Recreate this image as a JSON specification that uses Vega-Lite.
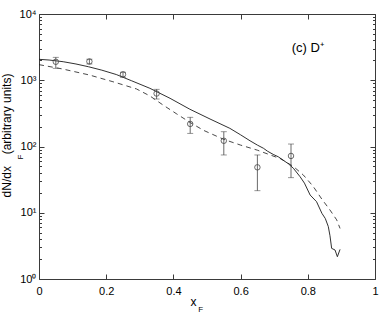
{
  "$schema": "https://vega.github.io/schema/vega-lite/v6.json",
  "width": 336,
  "height": 265,
  "autosize": {"type": "none"},
  "padding": {"left": 39, "top": 14, "right": 7, "bottom": 36},
  "background": "white",
  "config": {
    "font": "Liberation Sans",
    "view": {"stroke": null},
    "axis": {"grid": false, "labelFont": "Liberation Sans", "titleFont": "Liberation Sans", "labelColor": "#000", "titleColor": "#000", "domainColor": "#3a3a3a", "tickColor": "#3a3a3a", "domainWidth": 1, "tickWidth": 1, "labelFontSize": 11, "titleFontSize": 12, "titleFontWeight": "normal", "labelOverlap": false, "labelFlush": false, "labelBound": false}
  },
  "datasets": {
    "solid": [
      {"x": 0.0, "y": 2070}, {"x": 0.03, "y": 2020}, {"x": 0.072, "y": 1905}, {"x": 0.11, "y": 1760},
      {"x": 0.147, "y": 1600}, {"x": 0.187, "y": 1420}, {"x": 0.23, "y": 1220}, {"x": 0.276, "y": 980},
      {"x": 0.33, "y": 756}, {"x": 0.39, "y": 534}, {"x": 0.449, "y": 365}, {"x": 0.509, "y": 260},
      {"x": 0.568, "y": 188}, {"x": 0.6, "y": 150}, {"x": 0.628, "y": 122}, {"x": 0.65, "y": 105},
      {"x": 0.668, "y": 94}, {"x": 0.68, "y": 85}, {"x": 0.697, "y": 76}, {"x": 0.712, "y": 70},
      {"x": 0.727, "y": 62}, {"x": 0.742, "y": 55}, {"x": 0.757, "y": 47}, {"x": 0.777, "y": 35},
      {"x": 0.79, "y": 28}, {"x": 0.807, "y": 18.5}, {"x": 0.826, "y": 14.7}, {"x": 0.842, "y": 9.8},
      {"x": 0.852, "y": 8.2}, {"x": 0.861, "y": 6.2}, {"x": 0.866, "y": 4.5}, {"x": 0.871, "y": 2.9},
      {"x": 0.881, "y": 2.74}, {"x": 0.888, "y": 2.17}, {"x": 0.896, "y": 2.8}
    ],
    "dashed": [
      {"x": 0.0, "y": 1720}, {"x": 0.07, "y": 1480}, {"x": 0.15, "y": 1200}, {"x": 0.22, "y": 950},
      {"x": 0.29, "y": 740}, {"x": 0.33, "y": 580}, {"x": 0.37, "y": 420}, {"x": 0.41, "y": 310},
      {"x": 0.45, "y": 230}, {"x": 0.49, "y": 175}, {"x": 0.55, "y": 128}, {"x": 0.6, "y": 105},
      {"x": 0.65, "y": 88}, {"x": 0.69, "y": 74}, {"x": 0.72, "y": 65}, {"x": 0.757, "y": 50},
      {"x": 0.787, "y": 37}, {"x": 0.816, "y": 25}, {"x": 0.842, "y": 16}, {"x": 0.866, "y": 11},
      {"x": 0.886, "y": 7.8}, {"x": 0.896, "y": 5.8}
    ],
    "points": [
      {"x": 0.05, "y": 1900, "lo": 1515, "hi": 2220},
      {"x": 0.15, "y": 1920, "lo": 1760, "hi": 2080},
      {"x": 0.25, "y": 1230, "lo": 1110, "hi": 1320},
      {"x": 0.35, "y": 630, "lo": 521, "hi": 730},
      {"x": 0.45, "y": 219, "lo": 158, "hi": 276},
      {"x": 0.55, "y": 122, "lo": 74.5, "hi": 167},
      {"x": 0.65, "y": 48.5, "lo": 21.5, "hi": 74.5},
      {"x": 0.75, "y": 72, "lo": 33.8, "hi": 109}
    ],
    "labels": [
      {"x": 0.752, "y": 2670, "text": "(c) D⁺"}
    ],
    "subs": [
      {"x": -0.053, "y": 69.4, "text": "F", "which": "y"},
      {"x": 0.481, "y": 0.345, "text": "F", "which": "x"}
    ]
  },
  "resolve": {"axis": {"x": "independent", "y": "independent"}},
  "layer": [
    {
      "data": {"name": "solid"},
      "mark": {"type": "line", "stroke": "#1a1a1a", "strokeWidth": 0.9, "clip": true},
      "encoding": {
        "x": {"field": "x", "type": "quantitative", "scale": {"domain": [0, 1], "nice": false},
          "axis": {"orient": "bottom", "values": [0, 0.2, 0.4, 0.6, 0.8, 1], "format": ".1~f", "tickSize": -5, "labelPadding": 11, "title": "x", "titleX": 154, "titleAnchor": null, "titlePadding": 0}},
        "y": {"field": "y", "type": "quantitative", "scale": {"type": "log", "domain": [1, 10000], "nice": false},
          "axis": {"orient": "left", "values": [1, 10, 100, 1000, 10000], "tickSize": -5, "labelPadding": 8,
            "labelExpr": "datum.value==1?'10⁰':datum.value==10?'10¹':datum.value==100?'10²':datum.value==1000?'10³':'10⁴'",
            "title": "dN/dx\u2002\u2009 (arbitrary units)", "titleY": 121, "titlePadding": 6}}
      }
    },
    {
      "data": {"name": "dashed"},
      "mark": {"type": "line", "stroke": "#1a1a1a", "strokeWidth": 0.8, "strokeDash": [5, 4], "clip": true},
      "encoding": {
        "x": {"field": "x", "type": "quantitative",
          "axis": {"orient": "top", "values": [0, 0.2, 0.4, 0.6, 0.8, 1], "tickSize": -5, "labels": false, "title": null}},
        "y": {"field": "y", "type": "quantitative",
          "axis": {"orient": "right", "values": [1, 10, 100, 1000, 10000], "tickSize": -5, "labels": false, "title": null}}
      }
    },
    {
      "data": {"name": "points"},
      "mark": {"type": "rule", "stroke": "#444", "strokeWidth": 0.8},
      "encoding": {
        "x": {"field": "x", "type": "quantitative", "axis": null},
        "y": {"field": "lo", "type": "quantitative",
          "axis": {"orient": "left", "values": [2,3,4,5,6,7,8,9,20,30,40,50,60,70,80,90,200,300,400,500,600,700,800,900,2000,3000,4000,5000,6000,7000,8000,9000], "tickSize": -2.5, "labels": false, "domain": false, "title": null}},
        "y2": {"field": "hi"}
      }
    },
    {
      "data": {"name": "points"},
      "mark": {"type": "tick", "orient": "horizontal", "color": "#444", "size": 6, "thickness": 0.8},
      "encoding": {
        "x": {"field": "x", "type": "quantitative", "axis": null},
        "y": {"field": "lo", "type": "quantitative",
          "axis": {"orient": "right", "values": [2,3,4,5,6,7,8,9,20,30,40,50,60,70,80,90,200,300,400,500,600,700,800,900,2000,3000,4000,5000,6000,7000,8000,9000], "tickSize": -2.5, "labels": false, "domain": false, "title": null}}
      }
    },
    {
      "data": {"name": "points"},
      "mark": {"type": "tick", "orient": "horizontal", "color": "#444", "size": 6, "thickness": 0.8},
      "encoding": {
        "x": {"field": "x", "type": "quantitative", "axis": null},
        "y": {"field": "hi", "type": "quantitative", "axis": null}
      }
    },
    {
      "data": {"name": "points"},
      "mark": {"type": "point", "shape": "circle", "filled": false, "stroke": "#444", "strokeWidth": 0.8, "size": 30, "fill": "white", "fillOpacity": 0},
      "encoding": {
        "x": {"field": "x", "type": "quantitative", "axis": null},
        "y": {"field": "y", "type": "quantitative", "axis": null}
      }
    },
    {
      "data": {"name": "labels"},
      "mark": {"type": "text", "align": "left", "baseline": "alphabetic", "fontSize": 13, "color": "#000"},
      "encoding": {
        "x": {"field": "x", "type": "quantitative", "axis": null},
        "y": {"field": "y", "type": "quantitative", "axis": null},
        "text": {"field": "text"}
      }
    },
    {
      "data": {"name": "subs"},
      "transform": [{"filter": "datum.which == 'y'"}],
      "mark": {"type": "text", "align": "center", "baseline": "middle", "fontSize": 8, "angle": 270, "color": "#000", "clip": false},
      "encoding": {
        "x": {"field": "x", "type": "quantitative", "axis": null},
        "y": {"field": "y", "type": "quantitative", "axis": null},
        "text": {"field": "text"}
      }
    },
    {
      "data": {"name": "subs"},
      "transform": [{"filter": "datum.which == 'x'"}],
      "mark": {"type": "text", "align": "center", "baseline": "middle", "fontSize": 8, "color": "#000", "clip": false},
      "encoding": {
        "x": {"field": "x", "type": "quantitative", "axis": null},
        "y": {"field": "y", "type": "quantitative", "axis": null},
        "text": {"field": "text"}
      }
    }
  ]
}
